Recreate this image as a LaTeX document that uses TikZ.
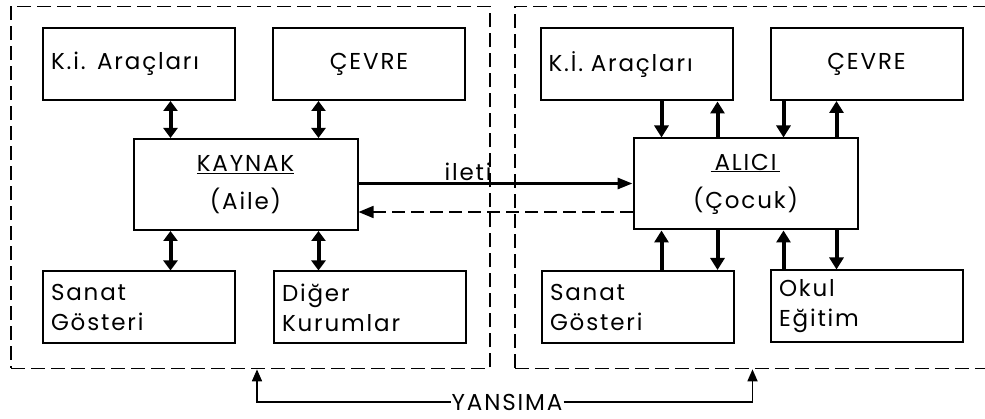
\documentclass[tikz,border=0pt]{standalone}
\usepackage{fontspec}
\setmainfont[LetterSpace=8]{Poppins}
\usetikzlibrary{arrows.meta}
\begin{document}
\begin{tikzpicture}[x=1pt,y=-1pt]
        \tikzstyle{every node}=[font=\fontsize{23}{38}\selectfont]
        \tikzstyle{kutu}=[draw, line width=2pt, minimum width=192pt, minimum height=72pt,
          text width=176pt, align=left, inner sep=0pt]
        \tikzstyle{merkez}=[kutu, minimum width=224pt, minimum height=91pt, text width=200pt, align=center]
        \tikzstyle{cerceve}=[draw, line width=1.7pt, dash pattern=on 14pt off 6pt, inner sep=0pt]
        \tikzstyle{ok}=[line width=4pt, -{Triangle[length=12pt,width=14pt]}]
        \tikzstyle{cift}=[line width=4pt, {Triangle[length=10pt,width=14pt]}-{Triangle[length=10pt,width=14pt]}]
        \tikzstyle{ileti ok}=[line width=3pt, -{Triangle[length=15pt,width=11pt]}]
        \tikzstyle{geri}=[line width=1.7pt, dash pattern=on 13pt off 6pt, -{Triangle[length=15pt,width=12pt]}]
        \tikzstyle{yans}=[line width=1.7pt, -{Triangle[length=12pt,width=10pt]}]

        \useasboundingbox (0,0) rectangle (985,419);

        % cerceveler
        \path (250.5,187.5) node[cerceve, minimum width=479pt, minimum height=362pt] (solc) {};
        \path (752.5,187.5) node[cerceve, minimum width=475pt, minimum height=362pt] (sagc) {};

        % kaynak tarafi
        \path (139,64) node[kutu] (lki) {K.i. Araçları};
        \path (369,64) node[kutu, align=center] (lcevre) {ÇEVRE};
        \path (245.5,184.5) node[merkez] (kaynak) {\underline{KAYNAK}\\(Aile)};
        \path (139,307.5) node[kutu] (lsanat) {Sanat\\[-8pt]Gösteri};
        \path (370,307.5) node[kutu] (ldiger) {Diğer\\[-8pt]Kurumlar};

        % alici tarafi
        \path (636.5,64.5) node[kutu] (rki) {K.İ. Araçları};
        \path (866.5,64) node[kutu, align=center] (rcevre) {ÇEVRE};
        \path (745.5,184) node[merkez] (alici) {\underline{\,ALICI\,}\\(Çocuk)};
        \path (638,307) node[kutu] (rsanat) {Sanat\\[-8pt]Gösteri};
        \path (867,306.5) node[kutu] (rokul) {Okul\\[-8pt]Eğitim};

        \foreach \dx/\kutu in {38/lki, 186/lcevre}
        {
          \draw[cift] ([xshift=\dx pt]kaynak.north west |- \kutu.south) -- ([xshift=\dx pt]kaynak.north west);
        }
        \foreach \dx/\kutu in {38/lsanat, 186/ldiger}
        {
          \draw[cift] ([xshift=\dx pt]kaynak.south west) -- ([xshift=\dx pt]kaynak.south west |- \kutu.north);
        }

        \foreach \dx/\kutu in {29/rki, 151/rcevre}
        {
          \draw[ok] ([xshift=\dx pt]alici.north west |- \kutu.south) -- ([xshift=\dx pt]alici.north west);
        }
        \foreach \dx/\kutu in {85/rki, 204/rcevre}
        {
          \draw[ok] ([xshift=\dx pt]alici.north west) -- ([xshift=\dx pt]alici.north west |- \kutu.south);
        }
        \foreach \dx/\kutu in {29/rsanat, 151/rokul}
        {
          \draw[ok] ([xshift=\dx pt]alici.south west |- \kutu.north) -- ([xshift=\dx pt]alici.south west);
        }
        \foreach \dx/\kutu in {85/rsanat, 204/rokul}
        {
          \draw[ok] ([xshift=\dx pt]alici.south west) -- ([xshift=\dx pt]alici.south west |- \kutu.north);
        }

        \draw[ileti ok] ([yshift=1pt]kaynak.east) -- ([yshift=1pt]kaynak.east -| alici.west)
          node[pos=0.4, above, inner sep=1pt] (ileti) {ileti};
        \draw[geri] ([yshift=-28pt]alici.west) -- ([yshift=-28pt]alici.west -| kaynak.east);

        \path (507,402) node[inner xsep=1pt, inner ysep=0pt] (yansima) {YANSIMA};
        \draw[yans] (yansima.west) -| ([xshift=6.5pt]solc.south);
        \draw[yans] (yansima.east) -| (sagc.south);
      \end{tikzpicture}
\end{document}
